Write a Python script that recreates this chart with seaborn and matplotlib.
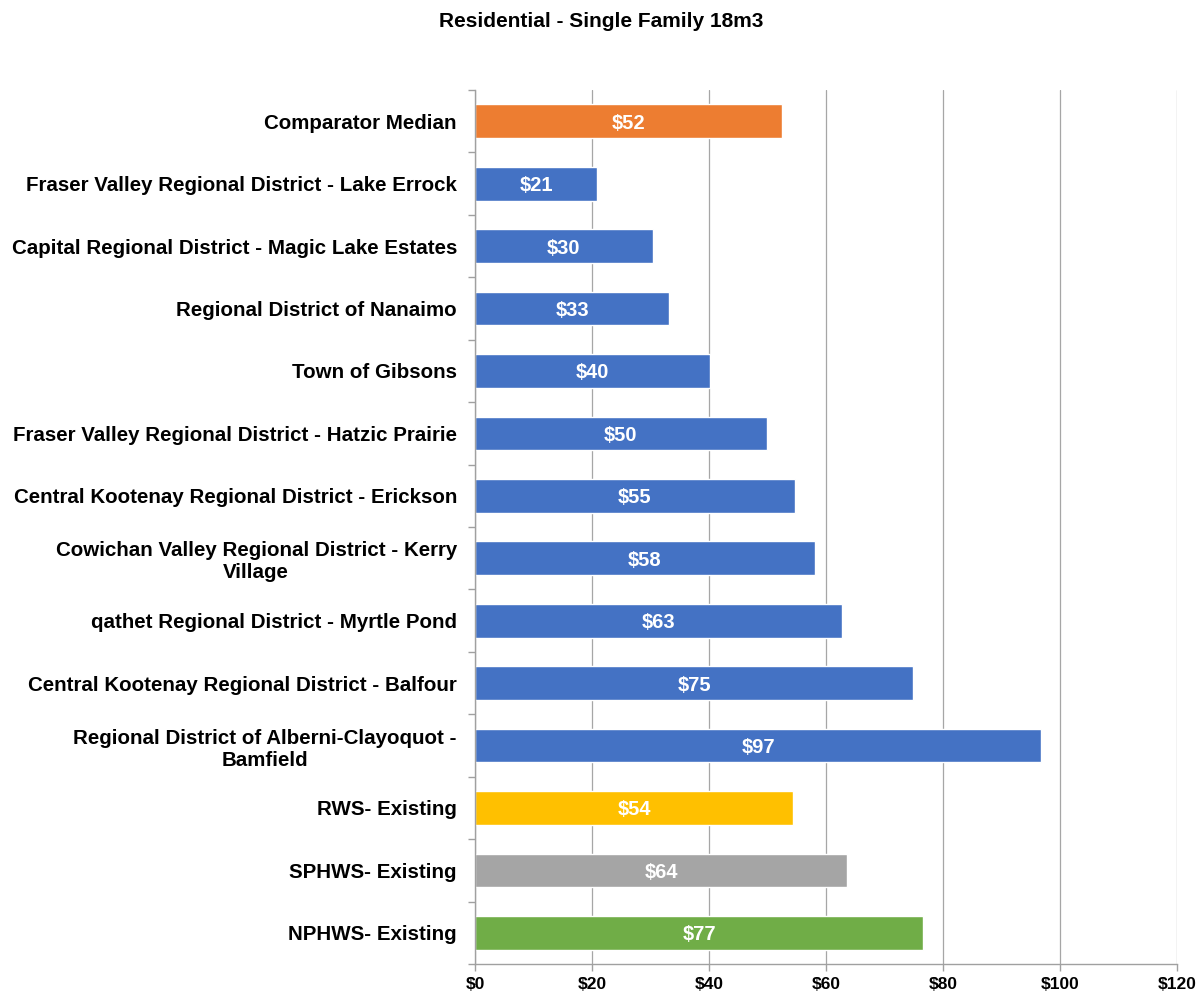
import pandas as pd
import matplotlib.pyplot as plt
import seaborn as sns

# Chart data
labels = [
    "Comparator Median",
    "Fraser Valley Regional District - Lake Errock",
    "Capital Regional District - Magic Lake Estates",
    "Regional District of Nanaimo",
    "Town of Gibsons",
    "Fraser Valley Regional District - Hatzic Prairie",
    "Central Kootenay Regional District - Erickson",
    "Cowichan Valley Regional District - Kerry\nVillage",
    "qathet Regional District - Myrtle Pond",
    "Central Kootenay Regional District - Balfour",
    "Regional District of Alberni-Clayoquot -\nBamfield",
    "RWS- Existing",
    "SPHWS- Existing",
    "NPHWS- Existing",
]
values = [52.4, 20.9, 30.4, 33.2, 40.1, 49.9, 54.7, 58.1, 62.7, 74.9, 96.8, 54.4, 63.6, 76.6]
colors = ["#ED7D31"] + ["#4472C4"] * 10 + ["#FFC000", "#A5A5A5", "#70AD47"]
xticks = [0, 20, 40, 60, 80, 100, 120]

df = pd.DataFrame({"label": labels, "value": values})

sns.set_style("white")
plt.rcParams["font.family"] = ["Liberation Sans", "DejaVu Sans"]
plt.rcParams["text.color"] = "black"
plt.rcParams["xtick.color"] = "#A0A0A0"
plt.rcParams["ytick.color"] = "#A0A0A0"
plt.rcParams["xtick.labelcolor"] = "black"
plt.rcParams["ytick.labelcolor"] = "black"

fig = plt.figure(figsize=(12.03, 9.96), dpi=100)
ax = fig.add_axes([0.3948, 0.0321, 0.5836, 0.8775])

sns.barplot(data=df, x="value", y="label", hue="label", palette=colors,
            legend=False, width=0.54, saturation=1, ax=ax)

# value labels inside bars
for cont, v in zip(ax.containers, values):
    anns = ax.bar_label(cont, labels=[f"${v:.0f}"], label_type="center", color="white",
                        fontsize=14.5, fontweight="bold")
    for a in anns:
        a.set_va("center_baseline")

ax.set_xlim(0, 120)
ax.set_ylim(len(labels) - 0.5, -0.5)
ax.set_xticks(xticks)
ax.set_xticklabels([f"${t}" for t in xticks], fontsize=12.5, fontweight="bold")
ax.set_yticks(range(len(labels)))
ax.set_yticklabels(labels, fontsize=14.8, fontweight="bold", multialignment="center",
                   linespacing=1.2)
ax.set_yticks([i - 0.5 for i in range(len(labels) + 1)], minor=True)
ax.tick_params(axis="y", which="major", left=False, length=0, pad=13)
ax.tick_params(axis="y", which="minor", left=True, length=5, width=1)
ax.tick_params(axis="x", bottom=True, length=5, width=1, pad=4)
ax.set_xlabel("")
ax.set_ylabel("")

ax.grid(axis="x", color="#A6A6A6", linewidth=0.9)
ax.set_axisbelow(True)
for side in ["top", "right"]:
    ax.spines[side].set_visible(False)
for side in ["left", "bottom"]:
    ax.spines[side].set_color("#A0A0A0")
    ax.spines[side].set_linewidth(1)

fig.text(0.5, 0.978, "Residential - Single Family 18m3", ha="center", va="center",
         fontsize=15, fontweight="bold")

fig.savefig("out.png", dpi=100)
